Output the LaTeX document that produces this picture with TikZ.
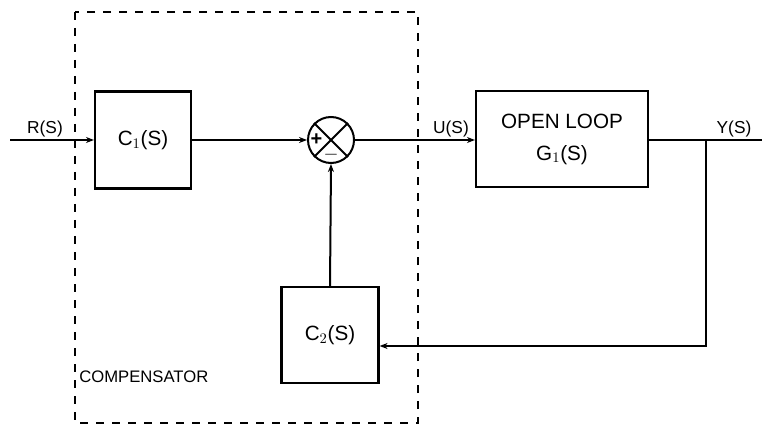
\documentclass[tikz,border=0pt]{standalone}
\usepackage{fontspec}
\setmainfont{Liberation Sans}
\usetikzlibrary{arrows.meta}
\begin{document}
\begin{tikzpicture}[x=0.75pt,y=-0.75pt,
  wire/.style={line width=1.5pt},
  arr/.style={wire,-{Stealth[length=6pt,width=4.5pt]}},
  blockbox/.style={draw,line width=1.6pt,inner sep=0pt,font=\fontsize{15.5}{18}\selectfont},
  lbl/.style={font=\fontsize{13}{15}\selectfont,inner sep=0pt},
  frame/.style={line width=1.6pt,dash pattern=on 6pt off 6pt}]
\useasboundingbox (0,0) rectangle (762,427);
% compensator dashed frame
\draw[frame] (75,12) rectangle (418,423);
\node[lbl,anchor=west,font=\fontsize{12.5}{14}\selectfont] (comp) at (79,377) {COMPENSATOR};
% blocks
\node[blockbox,minimum width=72pt,minimum height=72.75pt] (c1) at (143,140) {C$_1$(S)};
\node[draw,circle,line width=1.5pt,minimum size=34.5pt,inner sep=0pt] (sum) at (331,140) {};
\draw[wire] (sum.north west) -- (sum.south east);
\draw[wire] (sum.north east) -- (sum.south west);
\node[font=\bfseries\fontsize{15}{16}\selectfont,inner sep=0pt] (plus) at ([xshift=-11pt]sum.center) {+};
\node[font=\bfseries\fontsize{15}{16}\selectfont,inner sep=0pt] (minus) at ([yshift=-11pt]sum.center) {$-$};
\node[blockbox,minimum width=129pt,minimum height=72pt,align=center] (ol) at (562,139) {OPEN LOOP\\[6pt]G$_1$(S)};
\node[blockbox,minimum width=72.75pt,minimum height=72pt] (c2) at (330,335) {C$_2$(S)};
% coordinates
\coordinate (in) at (10,140);
\coordinate (br) at (706,140);
\coordinate (out) at (762,140);
\coordinate (fb) at (706,346);
% connectors
\draw[arr] (in) -- (c1.west |- in);
\draw[arr] (c1.east) -- (sum.west);
\draw[arr] (sum.east) -- (ol.west |- sum.east);
\draw[wire] (ol.east |- br) -- (out);
\draw[arr] (br) -- (fb) -- (c2.east |- fb);
\draw[arr] (c2.north) -- (sum.south);
% labels
\node[lbl] (rs) at (45,129) {R(S)};
\node[lbl] (us) at (451,129) {U(S)};
\node[lbl] (ys) at (734,129) {Y(S)};
\end{tikzpicture}
\end{document}
